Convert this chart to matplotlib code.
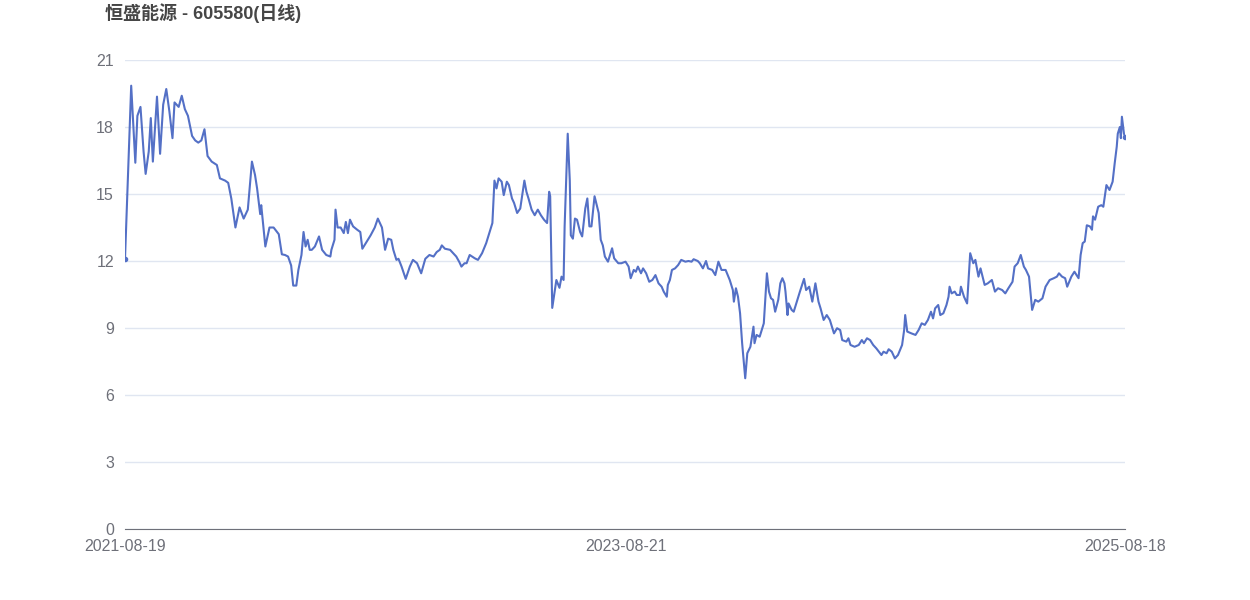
import matplotlib
matplotlib.use("Agg")
from matplotlib import pyplot as plt

# trading-day index since listing window start, and daily close
day = [0, 6, 8, 10, 12, 15, 18, 20, 23, 25, 27, 31, 34, 37, 40, 43, 46, 48, 52, 55,
       58, 61, 65, 68, 71, 74, 77, 80, 84, 89, 92, 97, 100, 103, 107, 111, 115, 119, 123, 126,
       128, 131, 132, 136, 140, 144, 149, 152, 155, 158, 161, 163, 166, 168, 171, 173, 175, 177, 179, 181,
       184, 188, 191, 195, 199, 200, 203, 204, 206, 209, 212, 214, 216, 218, 221, 225, 228, 230, 234, 238,
       242, 245, 247, 249, 252, 255, 258, 260, 263, 265, 268, 272, 276, 279, 283, 287, 291, 295, 299, 302,
       305, 307, 310, 315, 318, 321, 324, 326, 329, 331, 334, 339, 342, 346, 350, 354, 356, 358, 360, 362,
       365, 367, 370, 372, 375, 377, 380, 383, 387, 389, 391, 394, 397, 400, 403, 406, 409, 411, 412, 414,
       418, 421, 423, 425, 426, 429, 431, 432, 434, 436, 438, 441, 443, 446, 448, 450, 452, 455, 459, 461,
       463, 465, 468, 472, 474, 478, 481, 485, 488, 490, 493, 495, 497, 500, 502, 505, 508, 511, 514, 517,
       520, 522, 525, 526, 528, 530, 533, 536, 539, 543, 546, 549, 551, 555, 557, 560, 563, 565, 569, 572,
       575, 578, 582, 586, 589, 590, 592, 594, 596, 598, 601, 603, 606, 609, 610, 612, 615, 617, 619, 622,
       624, 626, 628, 630, 633, 635, 637, 639, 640, 642, 643, 646, 648, 651, 654, 658, 660, 663, 666, 669,
       672, 674, 677, 680, 683, 687, 690, 693, 695, 699, 701, 703, 707, 711, 714, 716, 719, 722, 725, 728,
       733, 735, 738, 740, 743, 746, 749, 753, 755, 756, 758, 762, 766, 769, 772, 775, 778, 781, 783, 785,
       788, 790, 793, 796, 798, 799, 801, 804, 806, 809, 810, 813, 816, 819, 822, 824, 827, 829, 833, 836,
       840, 843, 846, 850, 853, 856, 860, 862, 865, 868, 871, 873, 876, 879, 882, 885, 889, 892, 896, 900,
       903, 905, 908, 911, 913, 917, 920, 924, 926, 928, 930, 932, 935, 937, 938, 940, 943, 946, 948, 951,
       954, 957, 959, 961, 962, 964, 965, 966, 968, 969]
close = [12.09, 19.85, 18.1, 16.4, 18.5, 18.9, 16.9, 15.9, 16.9, 18.4, 16.45, 19.36, 16.8, 19.0, 19.7, 18.7, 17.5, 19.1, 18.9, 19.4,
         18.8, 18.5, 17.6, 17.4, 17.3, 17.4, 17.9, 16.7, 16.45, 16.3, 15.7, 15.6, 15.5, 14.8, 13.5, 14.4, 13.9, 14.3, 16.45, 15.85,
         15.25, 14.1, 14.5, 12.65, 13.5, 13.5, 13.2, 12.3, 12.27, 12.2, 11.8, 10.9, 10.9, 11.6, 12.27, 13.3, 12.65, 12.95, 12.5, 12.5,
         12.65, 13.1, 12.5, 12.27, 12.2, 12.5, 12.95, 14.3, 13.5, 13.5, 13.25, 13.75, 13.25, 13.85, 13.55, 13.4, 13.3, 12.55, 12.85, 13.15,
         13.5, 13.9, 13.7, 13.5, 12.5, 13.0, 12.95, 12.5, 12.05, 12.1, 11.75, 11.2, 11.75, 12.05, 11.9, 11.45, 12.1, 12.27, 12.2, 12.4,
         12.5, 12.7, 12.55, 12.5, 12.35, 12.2, 11.95, 11.75, 11.9, 11.9, 12.27, 12.12, 12.05, 12.35, 12.8, 13.4, 13.7, 15.6, 15.25, 15.7,
         15.55, 14.95, 15.55, 15.4, 14.8, 14.6, 14.15, 14.35, 15.6, 15.1, 14.8, 14.3, 14.05, 14.3, 14.05, 13.85, 13.7, 15.1, 14.9, 9.9,
         11.15, 10.8, 11.3, 11.15, 13.55, 17.7, 15.6, 13.15, 13.0, 13.9, 13.85, 13.3, 13.1, 14.35, 14.8, 13.55, 13.55, 14.9, 14.15, 12.95,
         12.7, 12.2, 11.97, 12.57, 12.12, 11.9, 11.9, 11.97, 11.75, 11.23, 11.6, 11.52, 11.75, 11.45, 11.67, 11.45, 11.07, 11.15, 11.37, 11.0,
         10.85, 10.63, 10.4, 10.93, 11.15, 11.6, 11.67, 11.82, 12.05, 11.97, 12.0, 11.97, 12.08, 12.0, 11.9, 11.67, 12.0, 11.67, 11.6, 11.37,
         11.97, 11.6, 11.6, 11.15, 10.7, 10.18, 10.78, 10.4, 9.66, 8.32, 6.75, 7.87, 8.16, 9.06, 8.32, 8.69, 8.61, 8.91, 9.21, 11.45,
         10.63, 10.33, 10.26, 9.73, 10.26, 11.0, 11.23, 11.0, 10.63, 9.58, 10.1, 9.81, 9.73, 10.18, 10.63, 11.2, 10.7, 10.85, 10.18, 11.0,
         10.18, 9.88, 9.36, 9.58, 9.36, 8.76, 8.99, 8.91, 8.46, 8.39, 8.54, 8.24, 8.16, 8.24, 8.46, 8.32, 8.54, 8.46, 8.24, 8.09,
         7.79, 7.94, 7.87, 8.05, 7.94, 7.64, 7.79, 8.24, 8.91, 9.58, 8.84, 8.76, 8.69, 8.91, 9.21, 9.14, 9.36, 9.73, 9.43, 9.88,
         10.03, 9.58, 9.66, 10.03, 10.4, 10.85, 10.55, 10.63, 10.48, 10.48, 10.85, 10.4, 10.1, 12.35, 11.9, 12.05, 11.3, 11.67, 10.93, 11.0,
         11.15, 10.63, 10.78, 10.7, 10.55, 10.78, 11.07, 11.75, 11.9, 12.27, 11.75, 11.6, 11.3, 9.81, 10.26, 10.18, 10.33, 10.85, 11.15, 11.23,
         11.3, 11.45, 11.3, 11.23, 10.85, 11.3, 11.52, 11.23, 12.27, 12.8, 12.87, 13.6, 13.55, 13.4, 14.0, 13.85, 14.43, 14.5, 14.43, 15.4,
         15.18, 15.55, 16.37, 17.12, 17.7, 18.0, 17.5, 18.46, 17.7, 17.57]

tick_days = [0, 485, 969]
tick_labels = ["2021-08-19", "2023-08-21", "2025-08-18"]
y_ticks = [0, 3, 6, 9, 12, 15, 18, 21]

fig = plt.figure(figsize=(12.5, 6), dpi=100)
ax = fig.add_axes([0.1, 0.1183, 0.8, 0.7817])

ax.plot(day, close, color="#5470c6", lw=1.5, marker="o", ms=3,
        markevery=[0, len(day) - 1], zorder=3)

ax.set_xlim(0, 969)
ax.set_ylim(0, 21)
ax.set_yticks(y_ticks)
ax.set_xticks(tick_days)
ax.set_xticklabels(tick_labels)
ax.grid(axis="y", color="#E0E6F1", lw=1)
ax.set_axisbelow(True)

for side in ["top", "right", "left"]:
    ax.spines[side].set_visible(False)
ax.spines["bottom"].set_color("#6E7079")
ax.tick_params(axis="both", length=0, colors="#6E7079", labelsize=11.5)
ax.tick_params(axis="y", pad=8)
ax.tick_params(axis="x", pad=7)
for lab in ax.get_xticklabels() + ax.get_yticklabels():
    lab.set_family(["Liberation Sans", "DejaVu Sans"])

fig.text(0.084, 0.978, "恒盛能源 - 605580(日线)", ha="left", va="center",
         fontsize=13, fontweight="bold", color="#464646",
         family=["Liberation Sans", "Noto Sans CJK SC"])

fig.savefig("out.png")
